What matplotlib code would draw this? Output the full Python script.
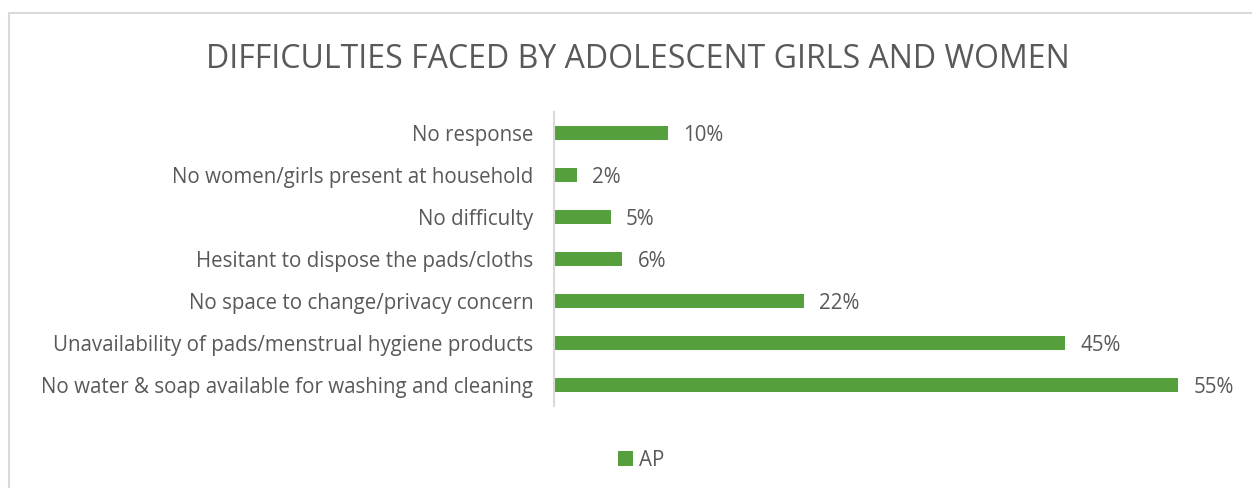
import matplotlib
matplotlib.use("Agg")
import matplotlib.pyplot as plt
from matplotlib.patches import Rectangle

# Data (top to bottom as shown)
categories = ["No response",
              "No women/girls present at household",
              "No difficulty",
              "Hesitant to dispose the pads/cloths",
              "No space to change/privacy concern",
              "Unavailability of pads/menstrual hygiene products",
              "No water & soap available for washing and cleaning"]
values = [10, 2, 5, 6, 22, 45, 55]
series_name = "AP"

bar_color = '#55A03C'
text_color = '#595959'
line_color = '#D9D9D9'

plt.rcParams['font.family'] = ['Open Sans', 'DejaVu Sans']

fig = plt.figure(figsize=(12.52, 4.88), dpi=100)
ax = fig.add_axes([554/1252, 1-406/488, 681/1252, 294/488])

ypos = list(range(len(categories)))
bars = ax.barh(ypos, values, height=0.34, color=bar_color, label=series_name)
ax.set_ylim(len(categories)-0.5, -0.5)
ax.set_xlim(0, 60)

ax.set_yticks(ypos)
ax.set_yticklabels(categories, fontsize=14.8, color=text_color)
ax.tick_params(axis='y', length=0, pad=15)
ax.set_xticks([])

for s in ['top', 'right', 'bottom']:
    ax.spines[s].set_visible(False)
ax.spines['left'].set_color(line_color)
ax.spines['left'].set_linewidth(1.5)

for y, v in zip(ypos, values):
    ax.annotate(f"{v}%", (v, y), xytext=(11, 0), textcoords='offset points',
                va='center_baseline', ha='left', fontsize=14.8, color=text_color)

fig.text(638/1252, 1-60/488, "DIFFICULTIES FACED BY ADOLESCENT GIRLS AND WOMEN",
         ha='center', va='center', fontsize=23, color=text_color)

leg = fig.legend(handles=[bars], labels=[series_name], loc='center',
                 bbox_to_anchor=(641/1252, 1-460/488), frameon=False,
                 fontsize=14.8, handlelength=0.75, handleheight=0.75,
                 handletextpad=0.3, labelcolor=text_color)

# chart area border
fig.patches.append(Rectangle((9/1252, -0.1), 1.2, 1-13/488+0.1,
                             transform=fig.transFigure, fill=False,
                             edgecolor=line_color, linewidth=1.5))

fig.savefig("out.png", dpi=100, facecolor='white')
